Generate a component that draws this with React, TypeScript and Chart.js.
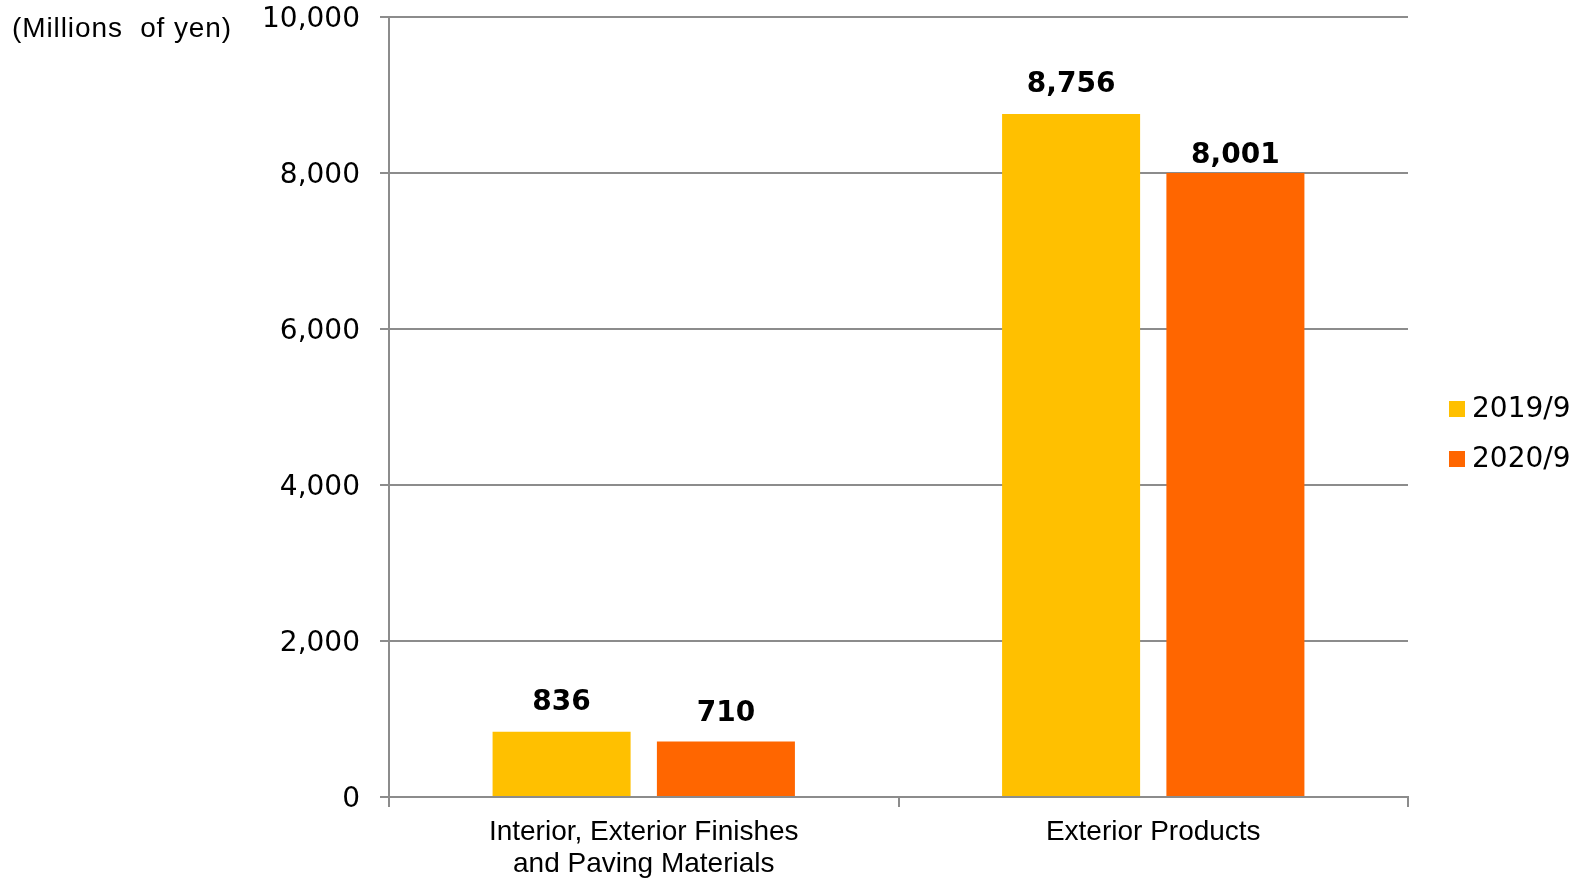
import React, { useEffect, useRef } from "react";
import { Chart, registerables } from "chart.js";

Chart.register(...registerables);

// Segment sales, millions of yen
const categories: (string | string[])[] = [
  ["Interior, Exterior Finishes", "and Paving Materials"],
  "Exterior Products",
];
const seriesNames = ["2019/9", "2020/9"];
const sales2019 = [836, 8756];
const sales2020 = [710, 8001];
const yTickValues = [0, 2000, 4000, 6000, 8000, 10000];
const unitLabel = "(Millions  of yen)";

const seriesColors = ["#FFC000", "#FF6600"];
const axisGray = "#8c8c8c";
const numberFont = "'DejaVu Sans', Verdana, sans-serif";
const textFont = "'Liberation Sans', Arial, sans-serif";

// distance (px) between the top of a bar and its value label baseline
const labelLift = [
  [22, 22],
  [21, 10],
];

const fmt = (v: number) => v.toLocaleString("en-US");

const valueLabels = {
  id: "valueLabels",
  afterDatasetsDraw(chart: any) {
    const ctx: CanvasRenderingContext2D = chart.ctx;
    ctx.save();
    ctx.font = `bold 28px ${numberFont}`;
    ctx.fillStyle = "#000";
    ctx.textAlign = "center";
    ctx.textBaseline = "alphabetic";
    chart.data.datasets.forEach((ds: any, di: number) => {
      const meta = chart.getDatasetMeta(di);
      meta.data.forEach((bar: any, i: number) => {
        ctx.fillText(fmt(ds.data[i]), bar.x, bar.y - labelLift[di][i]);
      });
    });
    ctx.restore();
  },
};

const sideLegend = {
  id: "sideLegend",
  afterDraw(chart: any) {
    const ctx: CanvasRenderingContext2D = chart.ctx;
    const x0 = chart.chartArea.right + 41;
    const yStart = 409;
    const rowGap = 50;
    ctx.save();
    ctx.font = `28px ${numberFont}`;
    ctx.textAlign = "left";
    ctx.textBaseline = "middle";
    chart.data.datasets.forEach((ds: any, di: number) => {
      const cy = yStart + di * rowGap;
      ctx.fillStyle = ds.backgroundColor;
      ctx.fillRect(x0, cy - 8, 16, 16);
      ctx.fillStyle = "#000";
      ctx.fillText(ds.label, x0 + 23, cy + 1);
    });
    ctx.restore();
  },
};

const unitCaption = {
  id: "unitCaption",
  afterDraw(chart: any) {
    const ctx: any = chart.ctx;
    ctx.save();
    ctx.font = `28px ${textFont}`;
    ctx.letterSpacing = "0.9px";
    ctx.fillStyle = "#000";
    ctx.textAlign = "left";
    ctx.textBaseline = "middle";
    ctx.fillText(unitLabel, 12, 29);
    ctx.restore();
  },
};

export default function App() {
  const canvasRef = useRef<HTMLCanvasElement | null>(null);

  useEffect(() => {
    if (!canvasRef.current) return;
    const chart = new Chart(canvasRef.current, {
      type: "bar",
      data: {
        labels: categories,
        datasets: [
          {
            label: seriesNames[0],
            data: sales2019,
            backgroundColor: seriesColors[0],
            categoryPercentage: 0.645,
            barPercentage: 0.84,
          },
          {
            label: seriesNames[1],
            data: sales2020,
            backgroundColor: seriesColors[1],
            categoryPercentage: 0.645,
            barPercentage: 0.84,
          },
        ],
      },
      options: {
        responsive: false,
        animation: false,
        devicePixelRatio: 1,
        layout: { padding: { left: 0, top: 17, right: 170, bottom: 0 } },
        plugins: {
          legend: { display: false },
          tooltip: { enabled: false },
        },
        scales: {
          x: {
            offset: true,
            grid: {
              display: true,
              drawOnChartArea: false,
              drawTicks: true,
              tickLength: 10,
              offset: true,
              color: axisGray,
              lineWidth: 2,
            },
            border: { display: true, color: axisGray, width: 2 },
            ticks: {
              color: "#000",
              padding: 9,
              maxRotation: 0,
              autoSkip: false,
              font: { family: textFont, size: 28, lineHeight: 1.15 },
            },
            afterFit(scale: any) {
              scale.height = 81;
              scale.paddingLeft = 0;
              scale.paddingRight = 0;
            },
          },
          y: {
            min: 0,
            max: 10000,
            grid: {
              color: axisGray,
              lineWidth: 2,
              drawTicks: true,
              tickLength: 9,
            },
            border: { display: true, color: axisGray, width: 2 },
            ticks: {
              color: "#000",
              padding: 20,
              labelOffset: 3,
              font: { family: numberFont, size: 28 },
              callback: (v: any) => fmt(Number(v)),
            },
            afterBuildTicks(scale: any) {
              scale.ticks = yTickValues.map((v) => ({ value: v }));
            },
            afterFit(scale: any) {
              scale.width = 389;
              scale.paddingTop = 0;
              scale.paddingBottom = 0;
            },
          },
        },
      },
      plugins: [valueLabels, sideLegend, unitCaption],
    });
    return () => chart.destroy();
  }, []);

  return (
    <div style={{ position: "fixed", left: 0, top: 0, width: 1578, height: 878, background: "#fff" }}>
      <canvas ref={canvasRef} width={1578} height={878} style={{ display: "block" }} />
    </div>
  );
}
